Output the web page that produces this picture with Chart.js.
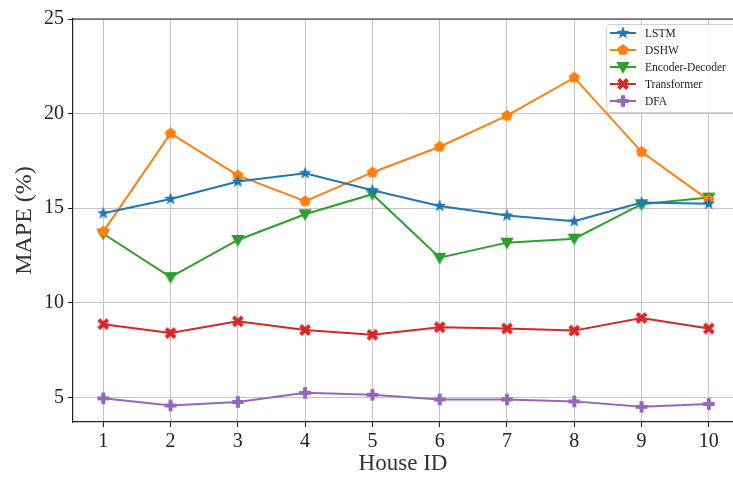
<!DOCTYPE html>
<html>
<head>
<meta charset="utf-8">
<script src="https://cdn.jsdelivr.net/npm/chart.js@4.4.1/dist/chart.umd.min.js"></script>
<style>
  html, body { margin: 0; padding: 0; background: #fff; }
  #wrap { width: 733px; height: 478px; }
</style>
</head>
<body>
<div id="wrap"><canvas id="chart" width="733" height="478"></canvas></div>
<script>
// House IDs on the x axis
const houseIds = [1, 2, 3, 4, 5, 6, 7, 8, 9, 10];
const yTicks = [5, 10, 15, 20, 25];

// MAPE (%) per model
const lstm = [14.73, 15.49, 16.41, 16.85, 15.95, 15.12, 14.61, 14.31, 15.30, 15.24];
const dshw = [13.76, 18.95, 16.73, 15.37, 16.89, 18.25, 19.89, 21.90, 17.98, 15.43];
const encDec = [13.65, 11.36, 13.32, 14.68, 15.74, 12.38, 13.18, 13.39, 15.21, 15.56];
const transformer = [8.87, 8.40, 9.02, 8.56, 8.31, 8.71, 8.64, 8.53, 9.20, 8.64];
const dfa = [4.95, 4.57, 4.76, 5.24, 5.14, 4.89, 4.89, 4.79, 4.50, 4.65];

const seriesNames = ['LSTM', 'DSHW', 'Encoder-Decoder', 'Transformer', 'DFA'];
const seriesColors = ['#1f77b4', '#ff7f0e', '#2ca02c', '#d62728', '#9467bd'];
const seriesShapes = ['star', 'pentagon', 'tri', 'xfill', 'plus'];
const seriesData = [lstm, dshw, encDec, transformer, dfa];

/**
 * Build a small canvas with a matplotlib-like filled marker
 */
function makeMarker(shape, color) {
    const size = 16;
    const c = document.createElement('canvas');
    c.width = size;
    c.height = size;
    const g = c.getContext('2d');
    g.translate(size / 2, size / 2);
    g.fillStyle = color;
    g.strokeStyle = color;
    g.beginPath();
    if (shape === 'star') {
        const ro = 6.8, ri = 2.7;
        for (let i = 0; i < 10; i++) {
            const r = i % 2 === 0 ? ro : ri;
            const a = -Math.PI / 2 + i * Math.PI / 5;
            g.lineTo(r * Math.cos(a), r * Math.sin(a));
        }
        g.closePath();
        g.fill();
    } else if (shape === 'pentagon') {
        const r = 6;
        for (let i = 0; i < 5; i++) {
            const a = -Math.PI / 2 + i * 2 * Math.PI / 5;
            g.lineTo(r * Math.cos(a), r * Math.sin(a));
        }
        g.closePath();
        g.fill();
    } else if (shape === 'tri') {
        g.moveTo(-6.8, -5);
        g.lineTo(6.8, -5);
        g.lineTo(0, 6.8);
        g.closePath();
        g.fill();
    } else if (shape === 'xfill') {
        g.lineWidth = 4;
        g.moveTo(-4.5, -4.5); g.lineTo(4.5, 4.5);
        g.moveTo(4.5, -4.5); g.lineTo(-4.5, 4.5);
        g.stroke();
    } else if (shape === 'plus') {
        g.fillRect(-2, -5.8, 4, 11.6);
        g.fillRect(-5.8, -2, 11.6, 4);
    }
    return c;
}

const markers = seriesShapes.map((s, i) => makeMarker(s, seriesColors[i]));

const datasets = seriesNames.map((name, i) => ({
    label: name,
    data: houseIds.map((h, j) => ({ x: h, y: seriesData[i][j] })),
    borderColor: seriesColors[i],
    backgroundColor: seriesColors[i],
    borderWidth: 2,
    pointStyle: markers[i],
    pointRadius: 6,
    tension: 0
}));

const serif = "'Liberation Serif', 'DejaVu Serif', serif";

/**
 * Top spine and the boxed legend, drawn after the datasets
 */
const framePlugin = {
    id: 'frame',
    afterDraw(chart) {
        const ctx = chart.ctx;
        const a = chart.chartArea;
        ctx.save();
        ctx.strokeStyle = '#222';
        ctx.lineWidth = 1.2;
        ctx.beginPath();
        ctx.moveTo(a.left, a.top);
        ctx.lineTo(a.right, a.top);
        ctx.stroke();

        // legend box
        const bx = 606, by = 24, bw = 130, bh = 88;
        ctx.fillStyle = 'rgba(255,255,255,0.85)';
        ctx.strokeStyle = '#d0d0d0';
        ctx.lineWidth = 1;
        ctx.beginPath();
        ctx.roundRect(bx + 0.5, by + 0.5, bw, bh, 3);
        ctx.fill();
        ctx.stroke();

        ctx.font = '11.5px ' + serif;
        ctx.textBaseline = 'middle';
        seriesNames.forEach((name, i) => {
            const y = 33 + i * 17;
            ctx.strokeStyle = seriesColors[i];
            ctx.lineWidth = 2;
            ctx.beginPath();
            ctx.moveTo(610, y);
            ctx.lineTo(636, y);
            ctx.stroke();
            ctx.drawImage(markers[i], 623 - 8, y - 8);
            ctx.fillStyle = '#222';
            ctx.fillText(name, 645, y + 1);
        });
        ctx.restore();
    }
};

new Chart(document.getElementById('chart'), {
    type: 'line',
    data: { datasets: datasets },
    options: {
        responsive: false,
        animation: false,
        layout: { autoPadding: false, padding: { top: 19, right: 0, left: 0, bottom: 0 } },
        plugins: {
            legend: { display: false },
            tooltip: { enabled: false }
        },
        scales: {
            x: {
                type: 'linear',
                min: 0.55,
                max: 10.36,
                afterBuildTicks: (axis) => { axis.ticks = houseIds.map(v => ({ value: v })); },
                afterFit: (axis) => {
                    axis.height = 56;
                    axis.paddingLeft = 0;
                    axis.paddingRight = 0;
                },
                grid: { color: '#c4c4c4', lineWidth: 1, tickLength: 5, tickColor: '#222' },
                border: { display: true, color: '#222', width: 1.2 },
                ticks: { color: '#222', font: { family: serif, size: 20 }, padding: 3, maxRotation: 0 },
                title: { display: true, text: 'House ID', color: '#333', font: { family: serif, size: 23 }, padding: { top: 0, bottom: 0 } }
            },
            y: {
                min: 3.7,
                max: 25,
                afterBuildTicks: (axis) => { axis.ticks = yTicks.map(v => ({ value: v })); },
                afterFit: (axis) => { axis.width = 73; },
                grid: { color: '#c4c4c4', lineWidth: 1, tickLength: 5, tickColor: '#222' },
                border: { display: true, color: '#222', width: 1.2 },
                ticks: { color: '#222', font: { family: serif, size: 20 }, padding: 4 },
                title: { display: true, text: 'MAPE (%)', color: '#333', font: { family: serif, size: 24 }, padding: { top: 10, bottom: 0 } }
            }
        }
    },
    plugins: [framePlugin]
});
</script>
</body>
</html>
